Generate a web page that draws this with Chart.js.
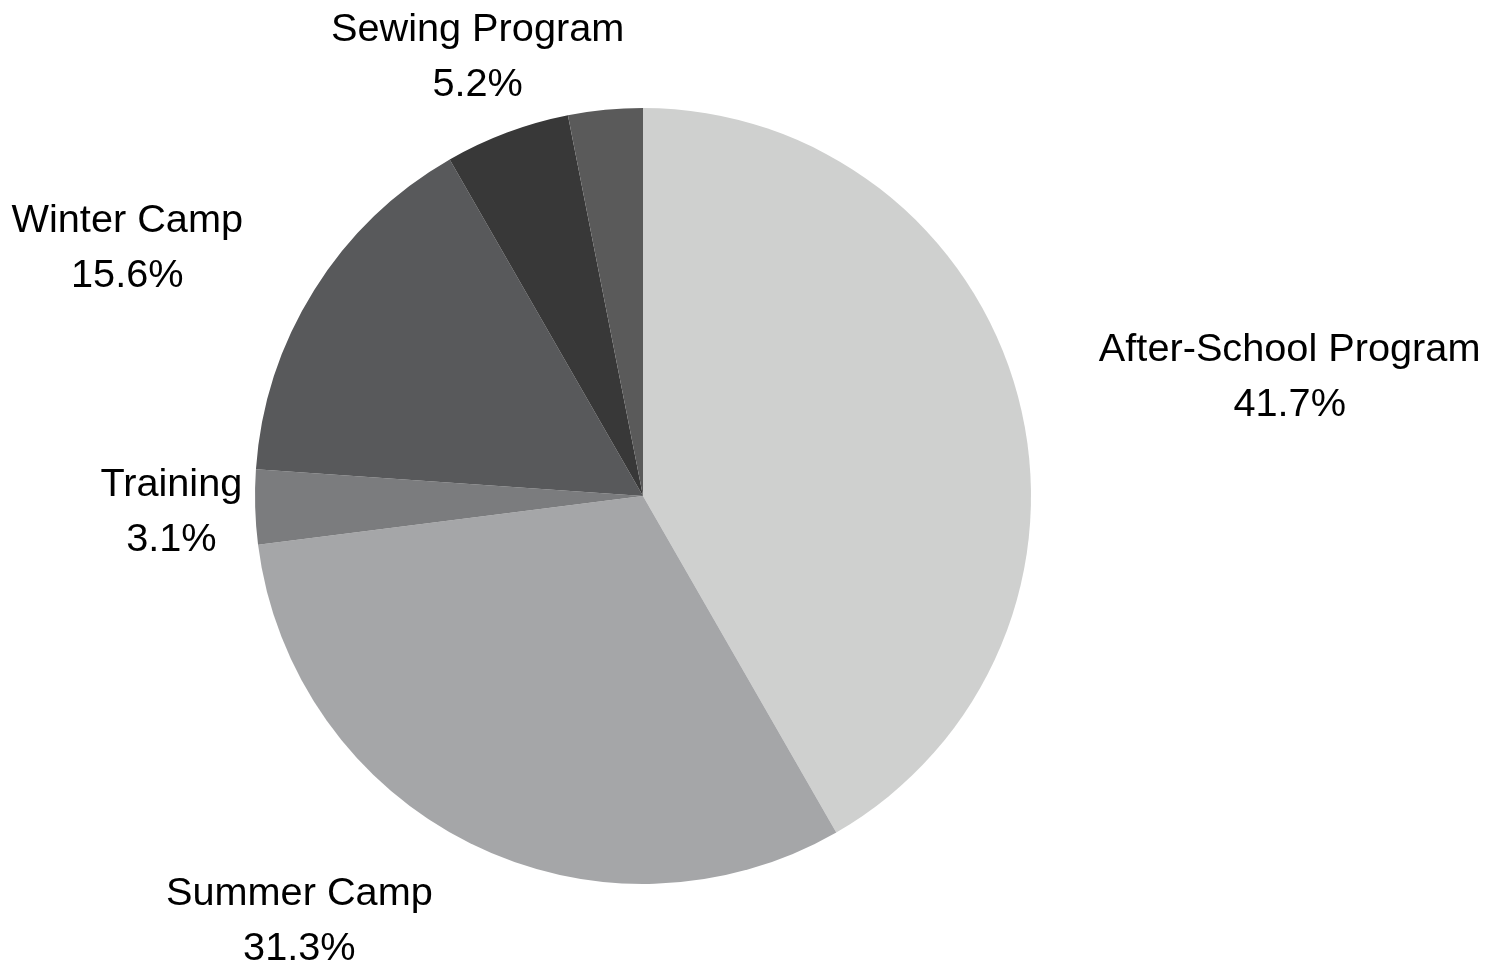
<!DOCTYPE html>
<html>
<head>
<meta charset="utf-8">
<script src="https://cdn.jsdelivr.net/npm/chart.js@4"></script>
<style>
  html, body { margin: 0; padding: 0; background: #ffffff; }
  #wrap { width: 1499px; height: 964px; position: relative; }
</style>
</head>
<body>
<div id="wrap"><canvas id="pieChart"></canvas></div>
<script>
// data
const programs = ["After-School Program", "Summer Camp", "Training", "Winter Camp", "Sewing Program", ""];
const shares = [41.7, 31.3, 3.1, 15.6, 5.2, 3.1];
const sliceColors = ["#cfd0cf", "#a5a6a8", "#7b7c7e", "#58595b", "#383838", "#5a5a5a"];

// how each label block sits against its anchor point
const labelAlign = ["left", "right", "center", "right", "center", "center"];

const outsideLabels = {
  id: 'outsideLabels',
  afterDraw(chart) 
  {
    const ctx = chart.ctx;
    const meta = chart.getDatasetMeta(0);
    ctx.save();
    ctx.font = '39.7px "Liberation Sans", Arial, sans-serif';
    ctx.fillStyle = '#000000';
    ctx.textBaseline = 'middle';
    ctx.textAlign = 'center';
    meta.data.forEach((arc, i) => 
    {
      const name = chart.data.labels[i];
      if(!name) return;
      const mid = (arc.startAngle + arc.endAngle) / 2;
      const r = arc.outerRadius * 1.216;
      const ax = arc.x + Math.cos(mid) * r;
      const ay = arc.y + Math.sin(mid) * r + 3;
      const lines = [name, shares[i].toFixed(1) + '%'];
      const w = Math.max(...lines.map(t => ctx.measureText(t).width));
      let cx = ax;
      if(labelAlign[i] === 'left') cx = ax + w / 2;
      if(labelAlign[i] === 'right') cx = ax - w / 2;
      const gap = 55;
      ctx.fillText(lines[0], cx, ay - gap / 2);
      ctx.fillText(lines[1], cx, ay + gap / 2);
    });
    ctx.restore();
  }
};

const ctx = document.getElementById('pieChart').getContext('2d');
new Chart(ctx, 
{
  type: 'pie',
  data: 
  {
    labels: programs,
    datasets: 
    [{
      data: shares,
      backgroundColor: sliceColors,
      borderWidth: 0
    }]
  },
  options: 
  {
    responsive: true,
    maintainAspectRatio: false,
    animation: false,
    layout: { padding: { top: 108, bottom: 80, left: 255, right: 468 } },
    plugins: 
    {
      legend: { display: false },
      tooltip: { enabled: false }
    }
  },
  plugins: [outsideLabels]
});
</script>
</body>
</html>
